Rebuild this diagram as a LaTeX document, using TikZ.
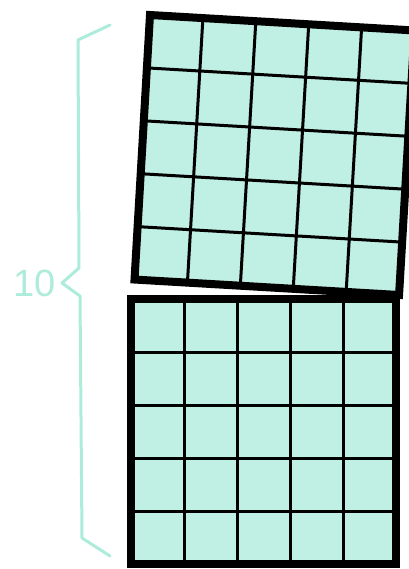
\documentclass[tikz,border=0pt]{standalone}
\usepackage{fontspec}
\setmainfont{Liberation Sans}
\usepackage{tikz}
\usetikzlibrary{positioning}

\definecolor{tilefill}{HTML}{C0EFE4}
\definecolor{bracemint}{HTML}{ADEBDB}

\tikzset{
    gridline/.style={draw=black, line width=3pt},
    frame/.style={draw=black, line width=8pt, line join=miter},
    bracestroke/.style={draw=bracemint, line width=3pt, line join=round, line cap=round},
}

\begin{document}
\begin{tikzpicture}[x=1pt, y=-1pt]
    \useasboundingbox (0,0) rectangle (408,569);

    % lower square, sitting straight
    \begin{scope}[shift={(131,299)}]
        \fill[tilefill] (0,0) rectangle (265,265);
        \foreach \i in {1,...,4} {
            \draw[gridline] (\i*53,0) -- (\i*53,265);
            \draw[gridline] (0,\i*53) -- (265,\i*53);
        }
        \draw[frame] (0,0) rectangle (265,265);
    \end{scope}

    % upper square, tipped a little
    \begin{scope}[shift={(150,15)}, rotate=-3.35]
        \fill[tilefill] (0,0) rectangle (265,265);
        \foreach \i in {1,...,4} {
            \draw[gridline] (\i*53,0) -- (\i*53,265);
            \draw[gridline] (0,\i*53) -- (265,\i*53);
        }
        \draw[frame] (0,0) rectangle (265,265);
    \end{scope}

    % brace and its label
    \coordinate (tip) at (62,283);
    \node[left=6pt of tip, text=bracemint, font=\fontsize{38}{38}\selectfont, inner sep=0pt] (ten) {10};
    \draw[bracestroke] (110,25) -- (78,40) -- (79,268) -- (tip) -- (80,296) -- (82,538) -- (110,556);
\end{tikzpicture}
\end{document}
